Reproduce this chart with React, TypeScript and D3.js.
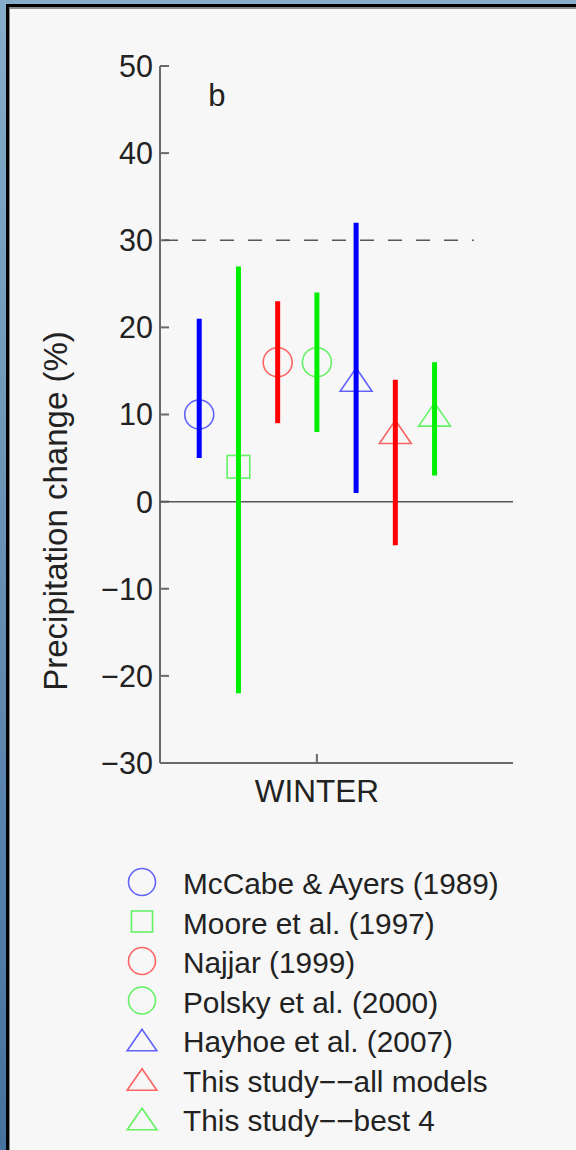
import * as d3 from "d3";

const studies = [
  "McCabe & Ayers (1989)",
  "Moore et al. (1997)",
  "Najjar (1999)",
  "Polsky et al. (2000)",
  "Hayhoe et al. (2007)",
  "This study−−all models",
  "This study−−best 4",
];
const centers = [10, 4, 16, 16, 14, 8, 10];
const lows = [5, -22, 9, 8, 1, -5, 3];
const highs = [21, 27, 23, 24, 32, 14, 16];
const colors = ["#0000ff", "#00ee00", "#ff0000", "#00ee00", "#0000ff", "#ff0000", "#00ee00"];
const shapes = ["circle", "square", "circle", "circle", "triangle", "triangle", "triangle"];
const yTicks = [-30, -20, -10, 0, 10, 20, 30, 40, 50];
const season = "WINTER";
const refLine = 30;

const font = "'Liberation Sans', Arial, sans-serif";

function Marker({ shape, cx, cy, color, size }: { shape: string; cx: number; cy: number; color: string; size: number }) {
  const common = { fill: "none", stroke: color, strokeWidth: 1.6, strokeOpacity: 0.6 };
  if (shape === "circle") return <circle cx={cx} cy={cy} r={size / 2} {...common} />;
  if (shape === "square") {
    const s = size * 0.78;
    return <rect x={cx - s / 2} y={cy - s / 2} width={s} height={s} {...common} />;
  }
  const w = size * 1.1;
  const h = size * 0.8;
  return (
    <polygon
      points={`${cx},${cy - h / 2} ${cx + w / 2},${cy + h / 2} ${cx - w / 2},${cy + h / 2}`}
      {...common}
    />
  );
}

export default function App() {
  const x = d3.scaleLinear().domain([0.6, 1.5]).range([160, 513]);
  const y = d3.scaleLinear().domain([-30, 50]).range([763, 66]);
  const xs = d3.scalePoint<string>().domain(studies).range([x(0.7), x(1.3)]);
  const tickLen = 9;

  return (
    <svg
      width={576}
      height={1150}
      style={{ position: "absolute", left: 0, top: 0, fontFamily: font }}
    >
      <defs>
        <linearGradient id="edge" x1="0" y1="0" x2="0" y2="1">
          <stop offset="0" stopColor="#86adca" />
          <stop offset="1" stopColor="#46729e" />
        </linearGradient>
      </defs>
      <rect x={0} y={0} width={576} height={1150} fill="url(#edge)" />
      <rect x={6} y={4} width={600} height={1200} fill="#000" />
      <rect x={9} y={7} width={600} height={1200} fill="#8a8a8a" />
      <rect x={10} y={9} width={600} height={1200} fill="#f7f7f7" />

      {/* axes */}
      <line x1={x(0.6)} x2={x(0.6)} y1={y(50)} y2={y(-30)} stroke="#6a6a6a" strokeWidth={2} />
      <line x1={x(0.6)} x2={x(1.5)} y1={y(-30)} y2={y(-30)} stroke="#6a6a6a" strokeWidth={2} />
      {yTicks.map((t) => (
        <g key={t}>
          <line x1={x(0.6)} x2={x(0.6) + tickLen} y1={y(t)} y2={y(t)} stroke="#6a6a6a" strokeWidth={2} />
          <text x={153} y={y(t)} dy="0.36em" textAnchor="end" fontSize={30.5} fill="#222">
            {t < 0 ? `−${-t}` : t}
          </text>
        </g>
      ))}
      <line x1={x(1)} x2={x(1)} y1={y(-30)} y2={y(-30) - tickLen} stroke="#6a6a6a" strokeWidth={2} />
      <text x={x(1)} y={802} textAnchor="middle" fontSize={31.5} fill="#222">
        {season}
      </text>
      <text
        transform={`translate(67, 511) rotate(-90)`}
        textAnchor="middle"
        fontSize={33}
        fill="#222"
      >
        Precipitation change (%)
      </text>
      <text x={x(0.745)} y={106} textAnchor="middle" fontSize={31} fill="#222">
        b
      </text>

      {/* reference lines */}
      <line x1={x(0.6)} x2={x(1.5)} y1={y(0)} y2={y(0)} stroke="#555" strokeWidth={1.5} />
      <line
        x1={x(0.6)}
        x2={x(1.4)}
        y1={y(refLine)}
        y2={y(refLine)}
        stroke="#555"
        strokeWidth={1.5}
        strokeDasharray="14 14"
        strokeDashoffset={-4}
      />

      {/* error bars and markers */}
      {studies.map((s, i) => (
        <g key={s}>
          <Marker shape={shapes[i]} cx={xs(s)!} cy={y(centers[i])} color={colors[i]} size={29} />
          <line
            x1={xs(s)}
            x2={xs(s)}
            y1={y(lows[i])}
            y2={y(highs[i])}
            stroke={colors[i]}
            strokeWidth={5}
          />
        </g>
      ))}

      {/* legend */}
      {studies.map((s, i) => {
        const base = 894 + i * 39.5;
        return (
          <g key={`leg-${s}`}>
            <Marker shape={shapes[i]} cx={142} cy={base - 12} color={colors[i]} size={27} />
            <text x={183} y={base} fontSize={29.8} fill="#222">
              {s}
            </text>
          </g>
        );
      })}
    </svg>
  );
}
